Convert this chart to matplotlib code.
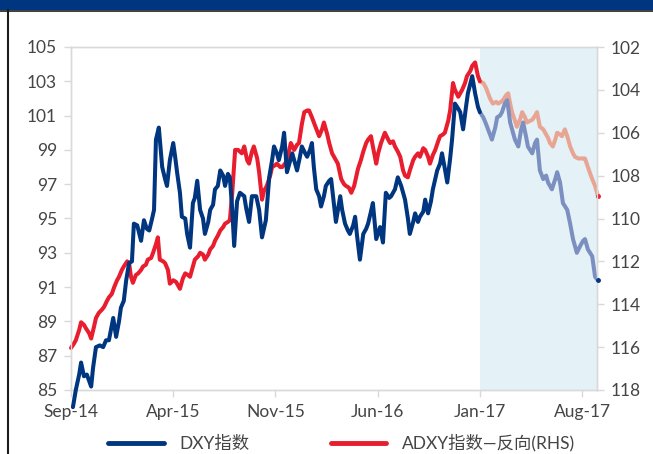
import numpy as np
import matplotlib
matplotlib.use("Agg")
import matplotlib.pyplot as plt
from matplotlib.patches import Rectangle
from matplotlib.lines import Line2D

START = "2014-09-01"

# Day offsets from START and DXY values (LHS)
DXY_DAY = [4,10,17,21,27,33,42,46,52,60,
           67,73,79,88,94,100,104,110,115,121,
           127,131,138,146,152,158,163,169,173,177,
           183,190,196,200,206,213,217,221,227,231,
           238,242,248,254,258,263,269,275,279,286,
           290,296,300,306,311,317,321,327,331,336,
           340,346,352,361,365,371,377,386,392,398,
           406,413,419,423,429,433,440,444,450,456,
           461,467,471,477,481,488,492,498,502,506,
           511,517,521,527,531,538,542,548,552,561,
           565,571,577,581,588,592,596,602,609,615,
           619,625,629,636,644,650,656,663,667,675,
           681,688,692,696,702,706,713,717,723,727,
           734,738,744,750,754,763,769,773,779,784,
           790,794,800,807,811,817,823,827,836,842,
           848,852,859,865,869,877,884,888,894,898,
           904,909,915,921,925,932,938,942,948,952,
           961,967,971,977,984,990,994,1002,1009,1013,
           1019,1025,1034,1040,1046,1054,1061,1067,1071,1077,
           1086,1092,1098]
DXY_VAL = [84.0,85.0,85.9,86.6,85.8,85.9,85.2,86.3,87.5,87.6,
           87.5,87.9,87.9,89.2,88.1,89.0,89.8,90.2,91.4,92.4,
           92.5,94.7,94.6,93.7,94.9,94.4,94.3,95.0,95.5,99.6,
           100.3,98.0,97.3,96.9,98.4,99.4,98.6,97.7,96.5,95.1,
           95.0,94.1,93.3,95.9,96.2,97.2,95.5,95.0,94.1,94.8,
           95.5,95.8,96.7,96.9,97.8,97.5,96.9,97.6,97.4,95.5,
           93.4,96.0,96.5,96.3,95.6,94.8,96.3,96.3,95.5,93.9,
           94.9,97.4,98.4,99.2,98.8,98.4,99.2,100.0,97.7,98.3,
           98.8,98.2,97.8,98.6,99.2,98.8,98.6,99.0,99.4,98.0,
           96.7,96.3,95.7,96.3,96.9,97.2,97.3,95.8,94.8,96.3,
           95.5,94.7,94.3,94.1,94.6,95.1,94.0,92.6,94.1,94.4,
           94.7,95.4,95.9,93.8,94.5,93.6,96.5,96.2,96.3,96.7,
           97.4,96.9,96.5,96.1,95.0,94.1,94.8,95.3,94.8,95.1,
           95.4,96.1,95.3,96.0,96.7,97.8,98.2,98.8,97.9,97.1,
           98.5,99.6,101.7,101.4,101.2,100.2,101.5,102.3,103.3,102.3,
           101.5,101.2,100.9,100.5,100.2,99.6,100.3,100.9,101.0,101.2,
           101.7,101.9,100.6,100.0,99.6,99.2,100.2,100.6,99.8,99.2,
           98.8,99.4,99.6,97.8,97.3,97.5,97.1,96.7,97.3,97.7,
           97.1,95.9,95.5,94.7,93.8,93.0,93.4,93.7,93.8,93.2,
           92.8,91.6,91.4]

# Day offsets from START and ADXY values (RHS, inverted axis)
ADXY_DAY = [0,6,10,17,21,27,31,38,42,48,
            52,58,65,69,75,79,85,90,96,100,
            106,110,117,121,125,129,135,140,146,150,
            156,160,167,171,177,181,185,192,196,202,
            206,213,219,227,233,238,244,248,254,258,
            265,269,275,279,286,290,296,300,306,311,
            317,321,327,331,336,342,348,356,361,367,
            371,377,381,388,392,398,402,408,415,419,
            425,429,436,440,446,450,458,465,471,475,
            481,486,492,496,502,506,513,517,523,527,
            534,538,544,548,552,556,563,569,573,579,
            584,590,594,598,604,609,615,619,625,629,
            636,640,646,650,654,661,665,671,675,681,
            686,692,696,702,706,713,717,723,727,734,
            738,744,748,754,759,765,769,775,779,786,
            790,796,800,807,811,815,821,825,832,836,
            842,848,852,859,865,869,873,879,886,890,
            896,900,907,911,915,919,925,929,936,940,
            946,950,957,961,967,971,977,984,988,994,
            998,1004,1009,1013,1019,1023,1029,1034,1040,1046,
            1050,1057,1061,1067,1071,1077,1082,1086,1092,1098]
ADXY_VAL = [116.04,115.84,115.68,115.2,114.84,114.96,115.12,115.36,115.6,115.04,
            114.64,114.4,114.24,114.12,113.84,113.68,113.52,113.2,112.88,112.72,
            112.4,112.24,112.0,112.08,112.72,113.0,112.64,112.56,112.4,112.24,
            112.16,111.92,111.84,111.6,111.2,110.88,111.92,112.0,112.08,112.4,
            113.04,112.88,112.96,113.28,112.8,112.56,112.64,112.72,112.24,111.92,
            111.76,111.6,111.68,111.92,111.68,111.44,111.28,111.04,110.8,110.56,
            110.4,110.24,110.16,110.08,108.8,106.8,106.8,106.96,106.64,107.28,
            107.44,106.88,106.64,107.2,107.84,109.12,108.72,108.48,108.0,107.6,
            107.52,107.44,107.6,107.6,107.44,107.28,106.48,106.8,106.56,106.48,
            105.6,105.04,104.96,104.96,105.28,105.52,105.92,106.16,105.84,105.52,
            106.08,106.48,106.96,107.12,107.28,107.44,108.16,108.4,108.48,108.56,
            108.8,108.48,108.08,107.68,107.28,106.88,106.48,106.32,106.16,106.64,
            107.44,106.96,106.48,106.24,106.0,106.32,106.48,106.4,106.64,106.88,
            107.12,107.76,108.0,108.08,107.76,107.28,107.12,106.96,107.12,106.72,
            106.8,107.12,107.44,107.04,106.8,106.4,106.16,106.08,106.0,105.44,
            104.96,103.68,104.0,104.32,104.16,104.0,103.68,103.36,103.12,102.88,
            102.72,103.36,103.6,103.68,103.92,104.16,104.4,104.64,104.56,104.64,
            104.56,104.48,104.24,104.16,104.64,105.04,105.44,105.72,105.36,105.04,
            105.28,105.52,105.44,105.4,105.2,105.04,105.72,105.84,106.0,106.24,
            106.48,106.64,106.32,106.0,106.08,106.16,105.84,106.16,106.64,106.96,
            107.12,107.2,107.2,107.2,107.2,107.6,107.92,108.16,108.48,108.96]

assert len(DXY_DAY) == len(DXY_VAL)
assert len(ADXY_DAY) == len(ADXY_VAL)

X_TICKS = ["2014-09-01", "2015-04-01", "2015-11-01", "2016-06-01", "2017-01-01", "2017-08-01"]
X_TICK_LABELS = ["Sep-14", "Apr-15", "Nov-15", "Jun-16", "Jan-17", "Aug-17"]
X_END = "2017-09-01"
SHADE_START = "2017-01-01"
LEFT_TICKS = list(range(85, 106, 2))
RIGHT_TICKS = list(range(102, 119, 2))
LABEL_DXY = "DXY指数"
LABEL_ADXY = "ADXY指数—反向(RHS)"

NAVY = "#00357f"
RED = "#e81d2e"
NAVY_FADE = "#7b8fc0"
RED_FADE = "#e9a593"
SHADE = "#e4f1f6"
GRID = "#d9d9d9"
TXT = "#454545"

plt.rcParams["font.family"] = ["Lato", "Noto Sans CJK SC", "DejaVu Sans"]

start = np.datetime64(START)
dxy_t = start + np.array(DXY_DAY).astype("timedelta64[D]")
adxy_t = start + np.array(ADXY_DAY).astype("timedelta64[D]")
dxy_v = np.array(DXY_VAL)
adxy_v = np.array(ADXY_VAL)
split = np.datetime64(SHADE_START) - np.timedelta64(1, "D")

fig = plt.figure(figsize=(6.53, 4.54), dpi=100)
fig.patch.set_facecolor("white")
fig.add_artist(Rectangle((0, 1 - 10 / 454), 1, 10 / 454, transform=fig.transFigure,
                         facecolor=NAVY, edgecolor="none"))
fig.add_artist(Line2D([0, 1], [1 - 10.5 / 454] * 2, transform=fig.transFigure,
                      color="#1c1c1c", lw=1.2))
fig.add_artist(Line2D([7.5 / 653] * 2, [0, 1 - 10 / 454], transform=fig.transFigure,
                      color="#1c1c1c", lw=1.5))

ax = fig.add_axes([71 / 653, 1 - 390 / 454, (597 - 71) / 653, (390 - 47) / 454])
ax2 = ax.twinx()
ax.set_zorder(2)
ax.patch.set_visible(False)

ax2.axvspan(np.datetime64(SHADE_START), np.datetime64(X_END), color=SHADE, zorder=0, lw=0)

lw = 2.9
m1 = dxy_t <= split + np.timedelta64(1, "D")
m2 = dxy_t >= split
ax.plot(dxy_t[m1], dxy_v[m1], color=NAVY, lw=lw, clip_on=False, solid_capstyle="round",
        solid_joinstyle="round", zorder=3)
ax.plot(dxy_t[m2], dxy_v[m2], color=NAVY_FADE, lw=lw, clip_on=False, solid_capstyle="round",
        solid_joinstyle="round", zorder=2)
ax.plot(dxy_t[-1:], dxy_v[-1:], "o", color=NAVY, ms=2.5, clip_on=False, zorder=3)

n1 = adxy_t <= split + np.timedelta64(1, "D")
n2 = adxy_t >= split
ax2.plot(adxy_t[n1], adxy_v[n1], color=RED, lw=lw, clip_on=False, solid_capstyle="round",
         solid_joinstyle="round", zorder=3)
ax2.plot(adxy_t[n2], adxy_v[n2], color=RED_FADE, lw=lw, clip_on=False, solid_capstyle="round",
         solid_joinstyle="round", zorder=2)
ax2.plot(adxy_t[-1:], adxy_v[-1:], "o", color=RED, ms=2.5, clip_on=False, zorder=3)

ax.set_xlim(np.datetime64(START), np.datetime64(X_END))
ax.set_ylim(85, 105)
ax2.set_ylim(118, 102)
ax.set_yticks(LEFT_TICKS)
ax2.set_yticks(RIGHT_TICKS)
ax.set_xticks([np.datetime64(d) for d in X_TICKS])
ax.set_xticklabels(X_TICK_LABELS)

for a in (ax, ax2):
    for s in a.spines.values():
        s.set_color(GRID)
        s.set_linewidth(1.0)
    a.tick_params(colors=GRID, labelcolor=TXT, labelsize=12.5, length=5, width=1, direction="out")
ax.tick_params(axis="y", pad=5)
ax2.tick_params(axis="y", pad=5)
ax.tick_params(axis="x", pad=5)

handles = [Line2D([], [], color=NAVY, lw=3.5, solid_capstyle="round"),
           Line2D([], [], color=RED, lw=3.5, solid_capstyle="round")]
fig.legend(handles, [LABEL_DXY, LABEL_ADXY], loc="center left",
           bbox_to_anchor=(108 / 653, 1 - 443 / 454), ncol=2, frameon=False,
           fontsize=12.5, handlelength=3.2, handletextpad=0.9, columnspacing=4.7,
           labelcolor=TXT, borderpad=0, borderaxespad=0)

fig.savefig("out.png", dpi=100, facecolor="white")
